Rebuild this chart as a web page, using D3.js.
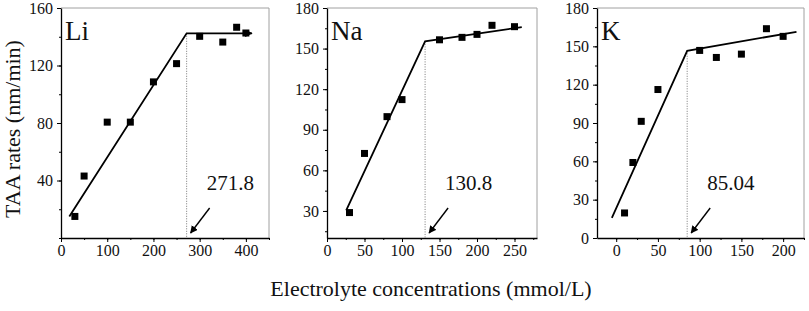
<!DOCTYPE html>
<html>
<head>
<meta charset="utf-8">
<script src="https://cdn.jsdelivr.net/npm/d3@7"></script>
<style>
  body { margin: 0; background: #fff; }
  svg, text { font-family: "Liberation Serif", "Times New Roman", serif; }
  text { fill: #111; }
</style>
</head>
<body>
<div id="chart"></div>
<script>
// ---- data ----
const panelNames = ['Li', 'Na', 'K'];

const liConc = [30, 50, 100, 150, 200, 250, 300, 350, 380, 400];
const liRate = [15.0, 43.1, 80.6, 80.6, 108.6, 121.3, 140.3, 136.3, 146.6, 142.6];
const liFitX = [18, 271.8, 413];
const liFitY = [15, 142.4, 142.4];

const naConc = [30, 50, 80, 100, 150, 180, 200, 220, 250];
const naRate = [28.8, 72.5, 99.7, 112.3, 156.5, 158.3, 160.5, 167.2, 166.2];
const naFitX = [25.6, 130.8, 259.7];
const naFitY = [30.5, 155.3, 165.9];

const kConc = [10, 20, 30, 50, 100, 120, 150, 180, 200];
const kRate = [19.6, 59.1, 91.3, 116.2, 146.8, 141.3, 143.9, 163.8, 157.8];
const kFitX = [-5.2, 85.04, 216];
const kFitY = [15.7, 146.5, 161.4];

const breakpoints = [271.8, 130.8, 85.04];
const breakLabels = ['271.8', '130.8', '85.04'];

const xDomains = [[0, 450], [0, 280], [-23, 225]];
const yDomains = [[0, 160], [10, 180], [0, 180]];
const xTicks = [[0, 100, 200, 300, 400], [0, 50, 100, 150, 200, 250], [0, 50, 100, 150, 200]];
const yTicks = [[40, 80, 120, 160], [30, 60, 90, 120, 150, 180], [0, 30, 60, 90, 120, 150, 180]];
const xMinor = [50, 25, 25];
const yMinor = [20, 15, 15];

const concs = [liConc, naConc, kConc];
const rates = [liRate, naRate, kRate];
const fitXs = [liFitX, naFitX, kFitX];
const fitYs = [liFitY, naFitY, kFitY];

// ---- layout ----
const width = 809, height = 311;
const frames = [[61, 269], [327, 537], [597, 804]];
const plotTop = 8, plotBottom = 238;
const serif = '"Liberation Serif", "Times New Roman", serif';

const svg = d3.select('#chart').append('svg')
    .attr('width', width)
    .attr('height', height);

const defs = svg.append('defs');
function addHead(id, size) {
    defs.append('marker')
        .attr('id', id)
        .attr('viewBox', '0 0 10 10')
        .attr('refX', 9).attr('refY', 5)
        .attr('markerWidth', size).attr('markerHeight', size)
        .attr('markerUnits', 'strokeWidth')
        .attr('orient', 'auto')
      .append('path')
        .attr('d', 'M0,0 L10,5 L0,10 Z')
        .attr('fill', '#000');
}
addHead('head', 4.2);
addHead('head2', 5.5);

panelNames.forEach((name, i) => {
    const x = d3.scaleLinear().domain(xDomains[i]).range(frames[i]);
    const y = d3.scaleLinear().domain(yDomains[i]).range([plotBottom, plotTop]);
    const g = svg.append('g');

    // gray top/right frame
    g.append('path')
        .attr('d', `M${frames[i][0]},${plotTop}H${frames[i][1]}V${plotBottom}`)
        .attr('fill', 'none')
        .attr('stroke', '#a0a0a0')
        .attr('stroke-width', 1);

    // minor ticks
    const xm = d3.range(Math.ceil(xDomains[i][0] / xMinor[i]) * xMinor[i], xDomains[i][1] + 0.01, xMinor[i]);
    const ym = d3.range(Math.ceil(yDomains[i][0] / yMinor[i]) * yMinor[i], yDomains[i][1] + 0.01, yMinor[i]);
    g.append('g')
        .attr('transform', `translate(0,${plotBottom})`)
        .call(d3.axisBottom(x).tickValues(xm).tickSize(2).tickFormat(''))
        .call(a => a.select('.domain').remove());
    g.append('g')
        .attr('transform', `translate(${frames[i][0]},0)`)
        .call(d3.axisLeft(y).tickValues(ym).tickSize(2).tickFormat(''))
        .call(a => a.select('.domain').remove());

    // major axes
    const xa = g.append('g')
        .attr('transform', `translate(0,${plotBottom})`)
        .call(d3.axisBottom(x).tickValues(xTicks[i]).tickSize(4).tickSizeOuter(0).tickPadding(3));
    const ya = g.append('g')
        .attr('transform', `translate(${frames[i][0]},0)`)
        .call(d3.axisLeft(y).tickValues(yTicks[i]).tickSize(4).tickSizeOuter(0).tickPadding(4));
    [xa, ya].forEach(a => {
        a.attr('font-family', serif).attr('font-size', 16);
        a.selectAll('text').attr('fill', '#111');
        a.select('.domain').attr('stroke-width', 1.3);
    });
    g.selectAll('.tick line').attr('stroke', '#000');

    // dotted breakpoint line
    const bi = 1;
    g.append('line')
        .attr('x1', x(breakpoints[i])).attr('x2', x(breakpoints[i]))
        .attr('y1', y(fitYs[i][bi])).attr('y2', plotBottom)
        .attr('stroke', '#555')
        .attr('stroke-width', 0.8)
        .attr('stroke-dasharray', '1,1.5');

    // fit line
    const fit = d3.line().x(d => x(d[0])).y(d => y(d[1]));
    g.append('path')
        .attr('d', fit(fitXs[i].map((v, k) => [v, fitYs[i][k]])))
        .attr('fill', 'none')
        .attr('stroke', '#000')
        .attr('stroke-width', 1.8)
        .attr('marker-end', i === 0 ? 'url(#head)' : null);

    // points
    const s = 7;
    g.selectAll('rect.pt')
        .data(concs[i].map((c, k) => [c, rates[i][k]]))
        .join('rect')
        .attr('class', 'pt')
        .attr('x', d => x(d[0]) - s / 2)
        .attr('y', d => y(d[1]) - s / 2)
        .attr('width', s).attr('height', s)
        .attr('fill', '#000');

    // annotation
    const bx = x(breakpoints[i]);
    g.append('text')
        .attr('x', bx + 20).attr('y', 190)
        .style('font-size', '21px')
        .text(breakLabels[i]);
    g.append('line')
        .attr('x1', bx + 23).attr('y1', 208)
        .attr('x2', bx + 4).attr('y2', 233)
        .attr('stroke', '#000')
        .attr('stroke-width', 1.4)
        .attr('marker-end', 'url(#head2)');

    // panel name
    g.append('text')
        .attr('x', frames[i][0] + 4).attr('y', 40)
        .style('font-size', '27px')
        .text(name);
});

// axis titles
svg.append('text')
    .attr('transform', 'translate(20,129) rotate(-90)')
    .attr('text-anchor', 'middle')
    .style('font-size', '22px')
    .text('TAA rates (nm/min)');

svg.append('text')
    .attr('x', 431).attr('y', 296)
    .attr('text-anchor', 'middle')
    .style('font-size', '22px')
    .text('Electrolyte concentrations (mmol/L)');
</script>
</body>
</html>
